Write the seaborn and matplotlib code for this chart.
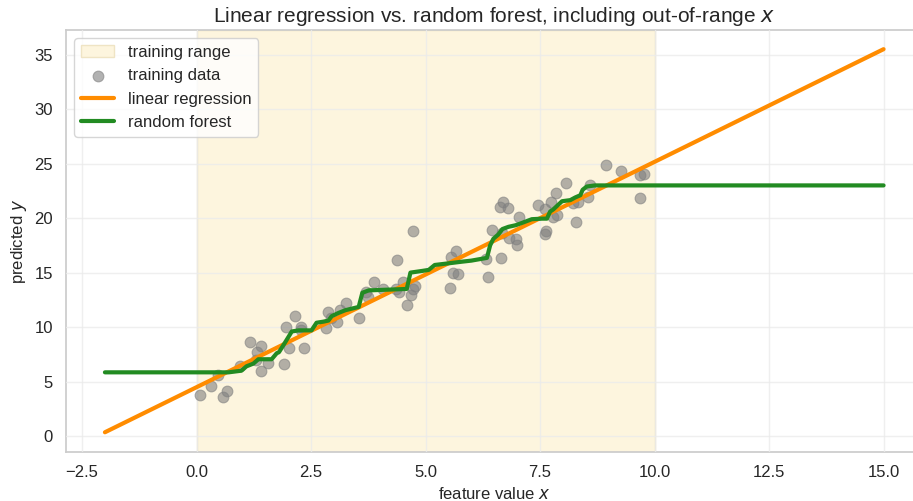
import matplotlib
matplotlib.use("Agg")
import matplotlib.pyplot as plt
import seaborn as sns
import pandas as pd

# training data
train_x = [0.08, 0.31, 0.46, 0.58, 0.66, 0.95, 1.16, 1.40, 1.32, 1.30, 1.40, 1.56,
           1.91, 2.01, 1.95, 2.15, 2.28, 2.35, 2.29,
           2.83, 2.88, 2.94, 3.06, 3.14, 3.27, 3.55, 3.70, 3.74, 3.88, 4.08, 4.36,
           4.43, 4.50, 4.38, 4.72, 4.59, 4.68, 4.78, 4.72,
           5.54, 5.59, 5.70, 5.56, 5.66, 6.33, 6.36, 6.45, 6.65, 6.62, 6.70, 6.81,
           7.05, 6.68, 6.83, 6.97, 7.00, 7.45, 7.60, 7.63, 7.61,
           7.74, 7.85, 7.79, 7.87, 8.06, 8.23, 8.33, 8.54, 8.60, 8.28, 8.94, 9.27,
           9.69, 9.77, 9.69]
train_y = [3.8, 4.6, 5.6, 3.6, 4.1, 6.4, 8.6, 8.3, 7.7, 7.0, 6.0, 6.7,
           6.65, 8.05, 10.0, 11.0, 10.0, 8.1, 9.7,
           9.9, 11.35, 10.8, 10.5, 11.6, 12.2, 10.8, 13.2, 12.8, 14.1, 13.5, 13.5,
           13.25, 14.1, 16.2, 18.8, 12.0, 12.9, 13.8, 13.5,
           13.6, 15.0, 14.9, 16.4, 17.0, 16.25, 14.6, 18.9, 16.3, 21.0, 21.45, 20.9,
           20.1, 18.6, 18.2, 18.1, 17.5, 21.2, 20.8, 18.8, 18.5,
           21.5, 22.3, 20.1, 20.3, 23.2, 21.4, 21.5, 21.9, 23.0, 19.65, 24.9, 24.3,
           24.0, 24.05, 21.8]

# linear regression prediction
lr_x = [-2.0, 15.0]
lr_y = [0.35, 35.5]

# random forest prediction
rf_x = [-2.0, 0.70, 0.98, 1.09, 1.24, 1.35, 1.64, 1.75, 1.80, 1.92, 2.08, 2.23, 2.51,
        2.62, 2.77, 2.88, 2.95, 3.10, 3.25, 3.54, 3.62, 3.76, 4.27, 4.59, 4.67,
        4.92, 5.07, 5.20, 5.50, 5.79, 6.00, 6.27, 6.34, 6.41, 6.48, 6.59, 6.68,
        6.81, 6.97, 7.10, 7.32, 7.54, 7.65, 7.72, 7.79, 7.98, 8.16, 8.27, 8.38,
        8.43, 8.52, 8.70, 15.0]
rf_y = [5.85, 5.85, 6.0, 6.4, 6.65, 7.05, 7.05, 7.6, 7.7, 8.5, 9.6, 9.7, 9.7,
        10.4, 10.5, 10.6, 11.0, 11.3, 11.55, 11.85, 13.15, 13.37, 13.45, 13.5, 15.0,
        15.15, 15.25, 15.7, 15.85, 16.0, 16.1, 16.3, 16.35, 17.5, 18.1, 18.5, 19.0,
        19.2, 19.35, 19.55, 19.9, 19.95, 19.95, 20.6, 20.8, 21.55, 21.65, 21.9, 22.1,
        22.6, 22.9, 23.0, 23.0]

train_lo, train_hi = 0.0, 10.0

sns.set_theme(style="whitegrid")
plt.rcParams["font.family"] = ["Liberation Sans", "DejaVu Sans"]

fig = plt.figure(figsize=(9.13, 5.01), dpi=100)
ax = fig.add_axes([66 / 913, 49 / 501, 856.5 / 913, 422 / 501])

ax.axvspan(train_lo, train_hi, facecolor="#fdf5de", edgecolor="#efe4c4",
           linewidth=1, label="training range", zorder=0)

df_train = pd.DataFrame({"x": train_x, "y": train_y})
sns.scatterplot(data=df_train, x="x", y="y", ax=ax, color="gray", alpha=0.6,
                s=60, edgecolor="gray", linewidth=0.8, label="training data", zorder=3)

df_lr = pd.DataFrame({"x": lr_x, "y": lr_y})
sns.lineplot(data=df_lr, x="x", y="y", ax=ax, color="darkorange", linewidth=3,
             label="linear regression", zorder=4)

df_rf = pd.DataFrame({"x": rf_x, "y": rf_y})
sns.lineplot(data=df_rf, x="x", y="y", ax=ax, color="forestgreen", linewidth=3,
             label="random forest", zorder=5, sort=False)

ax.set_xlim(-2.85, 15.85)
ax.set_ylim(-1.46, 37.26)
ax.set_xticks([-2.5, 0.0, 2.5, 5.0, 7.5, 10.0, 12.5, 15.0])
ax.set_yticks([0, 5, 10, 15, 20, 25, 30, 35])
ax.tick_params(labelsize=12)
ax.set_xlabel("feature value $x$", fontsize=12)
ax.set_ylabel("predicted $y$", fontsize=12)
ax.set_title("Linear regression vs. random forest, including out-of-range $x$", fontsize=15)
ax.set_axisbelow(False)
ax.grid(True, color="#ebebeb", linewidth=1, alpha=0.8, zorder=1)
for c in ax.collections + ax.lines:
    pass
ax.legend(loc="upper left", fontsize=12, frameon=True)

fig.savefig("out.png", dpi=100)
